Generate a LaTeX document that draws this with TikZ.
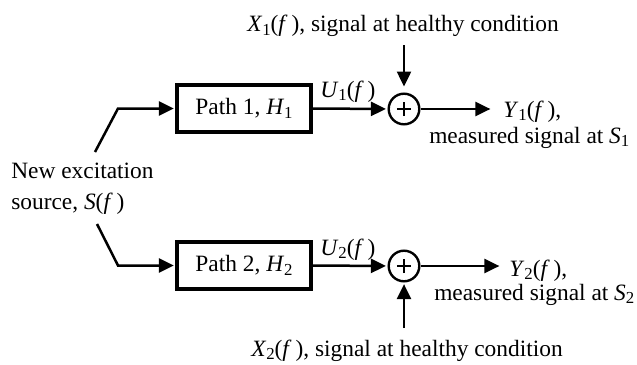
\documentclass[tikz,border=0pt]{standalone}
\usepackage{fontspec}
\setmainfont{Liberation Serif}
\usetikzlibrary{arrows.meta}
\newcommand{\vi}[1]{\textit{#1}}
\newcommand{\sbs}[1]{\raisebox{-0.35ex}{\fontsize{8.4}{9}\selectfont #1}}
\begin{document}
\begin{tikzpicture}[x=0.5pt,y=-0.5pt, line width=1.25pt,
  arr/.style={-{Triangle[length=7.5pt,width=7pt]}, shorten >=0.8pt},
  blk/.style={draw, line width=1.6pt, minimum width=67pt, minimum height=23.5pt, inner sep=0},
  sumnode/.style={circle, draw, line width=1.2pt, minimum size=15.3pt, inner sep=0, outer sep=0.6pt,
    path picture={\draw[line width=1.1pt] (path picture bounding box.center) ++(-3.6pt,0) -- ++(7.2pt,0)
      (path picture bounding box.center) ++(0,-3.6pt) -- ++(0,7.2pt);}},
  lbl/.style={inner sep=0, anchor=base west},
  font=\fontsize{11.7}{14}\selectfont]
\useasboundingbox (0,0) rectangle (637,364);

% blocks
\node[blk] (b1) at (244,108.5) {Path 1, \vi{H}\sbs{1}};
\node[blk] (b2) at (244,265.5) {Path 2, \vi{H}\sbs{2}};
\node[sumnode] (s1) at (404,109) {};
\node[sumnode] (s2) at (404,266) {};

% source text
\node[lbl] (src1) at (10,178) {New excitation};
\node[lbl] (src2) at (10,209) {source, \vi{S}(\vi{f}\,)};

\coordinate (a1) at (95,152);
\coordinate (k1) at (118,108.5);
\coordinate (a2) at (97,224);
\coordinate (k2) at (118,265.5);
\draw[arr] (a1) -- (k1) -- (b1.west);
\draw[arr] (a2) -- (k2) -- (b2.west);

% U arrows
\draw[arr] (b1.east) -- (s1.west);
\draw[arr] (b2.east) -- (s2.west);
\node[lbl] (u1) at (319,97) {\vi{U}\sbs{1}(\vi{f}\,)};
\node[lbl] (u2) at (319,255) {\vi{U}\sbs{2}(\vi{f}\,)};

% outputs
\coordinate (y1e) at (492,109);
\coordinate (y2e) at (501,266);
\draw[arr] (s1.east) -- (y1e);
\draw[arr] (s2.east) -- (y2e);
\node[lbl] (y1) at (502,117) {\vi{Y}\sbs{1}(\vi{f}\,),};
\node[lbl] (m1) at (428,143) {measured signal at \vi{S}\sbs{1}};
\node[lbl] (y2) at (508,276) {\vi{Y}\sbs{2}(\vi{f}\,),};
\node[lbl] (m2) at (433,300) {measured signal at \vi{S}\sbs{2}};

% healthy signals
\node[lbl] (x1) at (246,32) {\vi{X}\sbs{1}(\vi{f}\,), signal at healthy condition};
\node[lbl] (x2) at (250,356) {\vi{X}\sbs{2}(\vi{f}\,), signal at healthy condition};
\coordinate (x1s) at (404,45);
\coordinate (x2s) at (404,328);
\draw[arr, shorten >=3pt] (x1s) -- (s1.north);
\draw[arr] (x2s) -- (s2.south);
\end{tikzpicture}
\end{document}
